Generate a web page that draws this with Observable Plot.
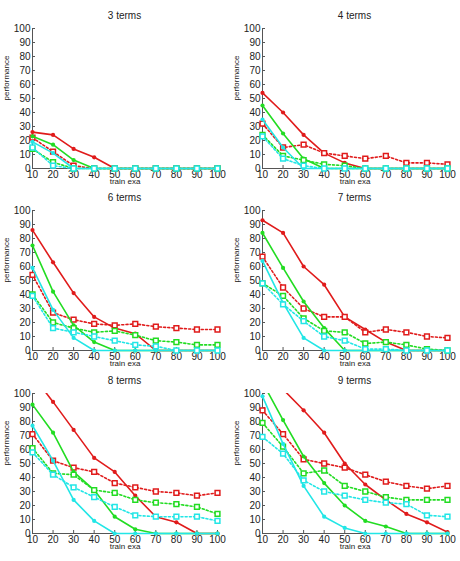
<!DOCTYPE html>
<html>
<head>
<meta charset="utf-8">
<script src="https://cdn.jsdelivr.net/npm/d3@7"></script>
<script src="https://cdn.jsdelivr.net/npm/@observablehq/plot@0.6"></script>
<style>
  body { margin: 0; background: #fff; font-family: "Liberation Sans", Arial, sans-serif; }
  #chart { position: relative; width: 460px; height: 561px; overflow: hidden; }
  .title { position: absolute; height: 12px; line-height: 12px; font-size: 10px; color: #222; text-align: center; }
  .panel { position: absolute; }
  .panel svg { display: block; overflow: visible; }
</style>
</head>
<body>
<div id="chart"></div>
<script>
// training set sizes on the x axis
const trainExamples = [10, 20, 30, 40, 50, 60, 70, 80, 90, 100];
const panelTitles = ["3 terms", "4 terms", "6 terms", "7 terms", "8 terms", "9 terms"];
const xTicks = [10, 20, 30, 40, 50, 60, 70, 80, 90, 100];
const yTicks = [0, 10, 20, 30, 40, 50, 60, 70, 80, 90, 100];
const xLabel = "train exa";
const yLabel = "performance";

// performance, one row per panel (same order as panelTitles)
const redSolid = [
  [26, 24, 14, 8, 0, 0, 0, 0, 0, 0],
  [54, 40, 24, 11, 4, 0, 0, 0, 0, 0],
  [86, 63, 41, 24, 16, 12, 0, 0, 0, 0],
  [93, 84, 60, 47, 24, 15, 6, 0, 0, 0],
  [113, 94, 74, 54, 44, 27, 12, 8, 0, 0],
  [115, 103, 88, 72, 50, 35, 24, 14, 8, 1]
];
const redDotted = [
  [22, 12, 2, 0, 0, 0, 0, 0, 0, 0],
  [32, 15, 17, 11, 9, 7, 9, 4, 4, 3],
  [54, 27, 22, 19, 18, 19, 17, 16, 15, 15],
  [67, 45, 30, 24, 24, 13, 15, 13, 10, 9],
  [71, 52, 47, 44, 36, 33, 30, 29, 27, 29],
  [88, 71, 53, 50, 47, 42, 37, 34, 32, 34]
];
const greenSolid = [
  [23, 17, 6, 0, 0, 0, 0, 0, 0, 0],
  [45, 25, 7, 0, 0, 0, 0, 0, 0, 0],
  [75, 42, 18, 6, 0, 0, 0, 0, 0, 0],
  [84, 59, 35, 16, 0, 0, 0, 0, 0, 0],
  [92, 72, 44, 31, 12, 3, 0, 0, 0, 0],
  [108, 81, 55, 36, 20, 9, 5, 0, 0, 0]
];
const greenDotted = [
  [14, 4.5, 0, 0, 0, 0, 0, 0, 0, 0],
  [24, 9, 6, 3, 2, 0, 0, 0, 0, 0],
  [40, 20, 16, 13, 14, 11, 7, 6, 4, 4],
  [48, 39, 23, 14, 13, 5, 6, 4, 1, 0],
  [61, 43, 42, 31, 29, 24, 22, 21, 19, 14],
  [79, 62, 43, 45, 34, 30, 26, 24, 24, 24]
];
const cyanSolid = [
  [19, 11, 0, 0, 0, 0, 0, 0, 0, 0],
  [35, 15, 0, 0, 0, 0, 0, 0, 0, 0],
  [59, 29, 9, 0, 0, 0, 0, 0, 0, 0],
  [64, 34, 9, 0, 0, 0, 0, 0, 0, 0],
  [77, 52, 24, 9, 0, 0, 0, 0, 0, 0],
  [98, 64, 34, 12, 4, 0, 0, 0, 0, 0]
];
const cyanDotted = [
  [15, 2, 0, 0, 0, 0, 0, 0, 0, 0],
  [23, 7, 2, 0, 0, 0, 0, 0, 0, 0],
  [39, 16, 13, 10, 7, 4, 3, 0, 0, 0],
  [48, 33, 21, 10, 7, 1, 1, 0, 0, 0],
  [58, 42, 33, 26, 19, 13, 12, 12, 12, 9],
  [69, 57, 38, 30, 27, 24, 22, 21, 13, 12]
];

const RED = "#e01b1b", GREEN = "#22dc22", CYAN = "#22e6e6";
const seriesDefs = [
  {rows: redSolid, color: RED, dotted: false},
  {rows: redDotted, color: RED, dotted: true},
  {rows: greenSolid, color: GREEN, dotted: false},
  {rows: greenDotted, color: GREEN, dotted: true},
  {rows: cyanSolid, color: CYAN, dotted: false},
  {rows: cyanDotted, color: CYAN, dotted: true}
];

const xDomain = [10, 100], yDomain = [0, 100];
const colLeft = [0, 230];
const plotTop = [28, 210, 393];
const mTop = 8, mLeft = 32, mRight = 13, mBottom = 24, frameH = 140, zeroInset = 4;
const chart = document.getElementById("chart");

panelTitles.forEach((title, i) => {
  const col = i % 2, row = Math.floor(i / 2);
  const left = colLeft[col], top = plotTop[row];

  const marks = [];
  for (const s of seriesDefs) {
    const pts = trainExamples.map((x, k) => ({x, y: s.rows[i][k]}));
    marks.push(Plot.line(pts, {
      x: "x", y: "y", stroke: s.color, strokeWidth: 1.6,
      strokeDasharray: s.dotted ? "2,2.2" : null, clip: true
    }));
    const visible = pts.filter(d => d.y <= yDomain[1]);
    if (s.dotted) {
      marks.push(Plot.dot(visible, {
        x: "x", y: "y", symbol: "square", r: 2.7,
        stroke: s.color, strokeWidth: 1.5, fill: "white"
      }));
    } else {
      marks.push(Plot.dot(visible, {x: "x", y: "y", r: 2.1, fill: s.color}));
    }
  }

  const plot = Plot.plot({
    width: 230,
    height: mTop + frameH + zeroInset + mBottom,
    marginTop: mTop, marginLeft: mLeft, marginRight: mRight, marginBottom: mBottom,
    style: {fontFamily: "Liberation Sans, Arial, sans-serif", fontSize: "10px", color: "#222", background: "transparent"},
    x: {domain: xDomain},
    y: {domain: yDomain, insetBottom: zeroInset},
    marks: [
      Plot.ruleY([yDomain[0]], {x1: xDomain[0], x2: xDomain[1], stroke: "#555", strokeWidth: 1}),
      Plot.ruleX([xDomain[0]], {y1: yDomain[0], y2: yDomain[1], stroke: "#555", strokeWidth: 1}),
      Plot.axisY(yTicks, {tickSize: -3, tickPadding: 5, stroke: "#555", fill: "#222", label: null}),
      Plot.axisX(xTicks, {tickSize: -3, tickPadding: 5, insetBottom: zeroInset, stroke: "#555", fill: "#222", label: null}),
      ...marks,
      Plot.text([xLabel], {frameAnchor: "bottom", dy: 11 + zeroInset - zeroInset, fontSize: 8, fill: "#222", text: d => d}),
      Plot.text([yLabel], {frameAnchor: "left", dx: -26, rotate: -90, fontSize: 8, fill: "#222", text: d => d})
    ]
  });

  const t = document.createElement("div");
  t.className = "title";
  t.style.left = (left + mLeft) + "px";
  t.style.width = (230 - mLeft - mRight) + "px";
  t.style.top = (top - 18) + "px";
  t.textContent = title;
  chart.appendChild(t);

  const p = document.createElement("div");
  p.className = "panel";
  p.style.left = left + "px";
  p.style.top = (top - mTop) + "px";
  p.appendChild(plot);
  chart.appendChild(p);
});
</script>
</body>
</html>
